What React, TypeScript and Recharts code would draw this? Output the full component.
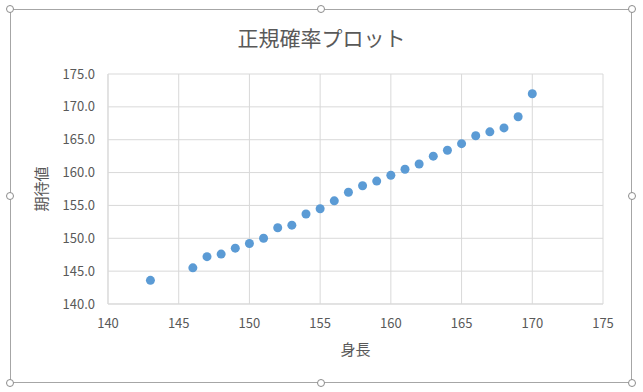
import { ScatterChart, Scatter, XAxis, YAxis, CartesianGrid, Label } from "recharts";

// 身長 (cm) and the matching expected value from the normal probability plot
const heights = [143, 146, 147, 148, 149, 150, 151, 152, 153, 154, 155, 156, 157, 158, 159, 160, 161, 162, 163, 164, 165, 166, 167, 168, 169, 170];
const expected = [143.6, 145.5, 147.2, 147.6, 148.5, 149.2, 150.0, 151.6, 152.0, 153.7, 154.5, 155.7, 157.0, 158.0, 158.7, 159.6, 160.5, 161.3, 162.5, 163.4, 164.4, 165.6, 166.2, 166.8, 168.5, 172.0];

const xTicks = [140, 145, 150, 155, 160, 165, 170, 175];
const yTicks = [140, 145, 150, 155, 160, 165, 170, 175];

const TEXT = "#595959";
const GRID = "#D9D9D9";
const DOT = "#5B9BD5";
const FONT = "'Noto Sans CJK JP', 'Noto Sans', sans-serif";

const data = heights.map((h, i) => ({ x: h, y: expected[i] }));

// selection handles on the chart frame
const handles: [number, number][] = [
  [10, 9], [321, 9], [632, 9],
  [10, 196], [632, 196],
  [10, 383], [321, 383], [632, 383],
];

export default function App() {
  return (
    <div style={{ position: "absolute", left: 0, top: 0, width: 643, height: 392, background: "#fff", fontFamily: FONT }}>
      <div
        style={{
          position: "absolute",
          left: 10,
          top: 9,
          width: 622,
          height: 374,
          border: "1px solid #A6A6A6",
          boxSizing: "border-box",
        }}
      />
      <div
        style={{
          position: "absolute",
          left: 0,
          top: 22,
          width: 643,
          textAlign: "center",
          fontSize: 21,
          color: TEXT,
        }}
      >
        正規確率プロット
      </div>
      <div style={{ position: "absolute", left: 0, top: 0 }}>
        <ScatterChart width={643} height={392} margin={{ top: 74, right: 40, bottom: 58, left: 48 }}>
          <CartesianGrid stroke={GRID} strokeWidth={1} />
          <XAxis
            type="number"
            dataKey="x"
            domain={[140, 175]}
            ticks={xTicks}
            height={30}
            tickLine={false}
            axisLine={{ stroke: GRID }}
            tickMargin={9}
            tick={{ fontSize: 13, fill: TEXT, fontFamily: FONT }}
          >
            <Label value="身長" position="bottom" offset={10} style={{ fontSize: 15, fill: TEXT, fontFamily: FONT }} />
          </XAxis>
          <YAxis
            type="number"
            dataKey="y"
            domain={[140, 175]}
            ticks={yTicks}
            width={60}
            tickLine={false}
            axisLine={{ stroke: GRID }}
            tickMargin={7}
            tickFormatter={(v: number) => v.toFixed(1)}
            tick={{ fontSize: 13, fill: TEXT, fontFamily: FONT }}
          >
            <Label value="期待値" angle={-90} position="left" offset={6} style={{ fontSize: 15, fill: TEXT, fontFamily: FONT, textAnchor: "middle" }} />
          </YAxis>
          <Scatter
            data={data}
            fill={DOT}
            isAnimationActive={false}
            shape={(p: any) => <circle cx={p.cx} cy={p.cy} r={4.5} fill={DOT} />}
          />
        </ScatterChart>
      </div>
      {handles.map(([x, y], i) => (
        <div
          key={i}
          style={{
            position: "absolute",
            left: x - 4,
            top: y - 4,
            width: 8,
            height: 8,
            borderRadius: "50%",
            border: "1px solid #8C8C8C",
            background: "#fff",
            boxSizing: "border-box",
          }}
        />
      ))}
    </div>
  );
}
